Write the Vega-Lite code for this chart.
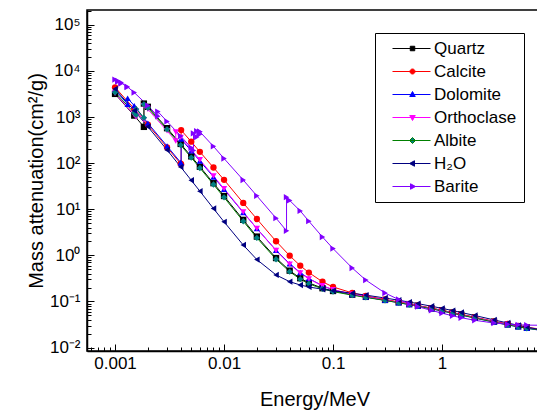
{
"$schema": "https://vega.github.io/schema/vega-lite/v6.json",
"width": 455, "height": 341,
"autosize": {"type": "none"},
"padding": {"left": 87, "top": 10, "right": 0, "bottom": 59},
"background": "white",
"data": {"values": [
{"m":"Quartz","e":0.001,"v":3178},{"m":"Quartz","e":0.0015,"v":1075},{"m":"Quartz","e":0.001839,"v":612},{"m":"Quartz","e":0.001839,"v":1960},{"m":"Quartz","e":0.002,"v":1668},{"m":"Quartz","e":0.003,"v":573},{"m":"Quartz","e":0.004,"v":261},{"m":"Quartz","e":0.005,"v":140},{"m":"Quartz","e":0.006,"v":83.5},{"m":"Quartz","e":0.008,"v":36.7},{"m":"Quartz","e":0.01,"v":19.35},{"m":"Quartz","e":0.015,"v":5.88},{"m":"Quartz","e":0.02,"v":2.55},{"m":"Quartz","e":0.03,"v":0.872},{"m":"Quartz","e":0.04,"v":0.465},{"m":"Quartz","e":0.05,"v":0.3185},{"m":"Quartz","e":0.06,"v":0.2515},{"m":"Quartz","e":0.08,"v":0.1935},{"m":"Quartz","e":0.1,"v":0.1684},{"m":"Quartz","e":0.15,"v":0.1402},{"m":"Quartz","e":0.2,"v":0.1255},{"m":"Quartz","e":0.3,"v":0.1076},{"m":"Quartz","e":0.4,"v":0.0959},{"m":"Quartz","e":0.5,"v":0.0874},{"m":"Quartz","e":0.6,"v":0.0807},{"m":"Quartz","e":0.8,"v":0.0709},{"m":"Quartz","e":1,"v":0.0637},{"m":"Quartz","e":1.25,"v":0.0569},{"m":"Quartz","e":1.5,"v":0.0519},{"m":"Quartz","e":2,"v":0.0447},{"m":"Quartz","e":3,"v":0.0364},{"m":"Quartz","e":4,"v":0.0317},{"m":"Quartz","e":5,"v":0.0288},{"m":"Quartz","e":6,"v":0.0268},{"m":"Quartz","e":8,"v":0.0244},
{"m":"Calcite","e":0.001,"v":4415},{"m":"Calcite","e":0.0015,"v":1513},{"m":"Calcite","e":0.002,"v":685},{"m":"Calcite","e":0.003,"v":219.5},{"m":"Calcite","e":0.004,"v":97.1},{"m":"Calcite","e":0.004038,"v":94.3},{"m":"Calcite","e":0.004038,"v":521},{"m":"Calcite","e":0.005,"v":292},{"m":"Calcite","e":0.006,"v":176},{"m":"Calcite","e":0.008,"v":80.3},{"m":"Calcite","e":0.01,"v":43.5},{"m":"Calcite","e":0.015,"v":13.7},{"m":"Calcite","e":0.02,"v":6.14},{"m":"Calcite","e":0.03,"v":2.02},{"m":"Calcite","e":0.04,"v":0.982},{"m":"Calcite","e":0.05,"v":0.596},{"m":"Calcite","e":0.06,"v":0.422},{"m":"Calcite","e":0.08,"v":0.2667},{"m":"Calcite","e":0.1,"v":0.2059},{"m":"Calcite","e":0.15,"v":0.1529},{"m":"Calcite","e":0.2,"v":0.1317},{"m":"Calcite","e":0.3,"v":0.1102},{"m":"Calcite","e":0.4,"v":0.0974},{"m":"Calcite","e":0.5,"v":0.0884},{"m":"Calcite","e":0.6,"v":0.0816},{"m":"Calcite","e":0.8,"v":0.0715},{"m":"Calcite","e":1,"v":0.0643},{"m":"Calcite","e":1.25,"v":0.0575},{"m":"Calcite","e":1.5,"v":0.0525},{"m":"Calcite","e":2,"v":0.0453},{"m":"Calcite","e":3,"v":0.037},{"m":"Calcite","e":4,"v":0.0324},{"m":"Calcite","e":5,"v":0.0295},{"m":"Calcite","e":6,"v":0.0275},{"m":"Calcite","e":8,"v":0.0251},
{"m":"Dolomite","e":0.001,"v":3858},{"m":"Dolomite","e":0.001305,"v":1905},{"m":"Dolomite","e":0.001305,"v":2558},{"m":"Dolomite","e":0.0015,"v":1766},{"m":"Dolomite","e":0.002,"v":737.5},{"m":"Dolomite","e":0.003,"v":234.7},{"m":"Dolomite","e":0.004,"v":103.3},{"m":"Dolomite","e":0.004038,"v":100.3},{"m":"Dolomite","e":0.004038,"v":332.2},{"m":"Dolomite","e":0.005,"v":185},{"m":"Dolomite","e":0.006,"v":111},{"m":"Dolomite","e":0.008,"v":50.3},{"m":"Dolomite","e":0.01,"v":27.06},{"m":"Dolomite","e":0.015,"v":8.51},{"m":"Dolomite","e":0.02,"v":3.82},{"m":"Dolomite","e":0.03,"v":1.29},{"m":"Dolomite","e":0.04,"v":0.659},{"m":"Dolomite","e":0.05,"v":0.422},{"m":"Dolomite","e":0.06,"v":0.3145},{"m":"Dolomite","e":0.08,"v":0.218},{"m":"Dolomite","e":0.1,"v":0.1786},{"m":"Dolomite","e":0.15,"v":0.1412},{"m":"Dolomite","e":0.2,"v":0.1244},{"m":"Dolomite","e":0.3,"v":0.1057},{"m":"Dolomite","e":0.4,"v":0.0939},{"m":"Dolomite","e":0.5,"v":0.0855},{"m":"Dolomite","e":0.6,"v":0.0789},{"m":"Dolomite","e":0.8,"v":0.0692},{"m":"Dolomite","e":1,"v":0.0622},{"m":"Dolomite","e":1.25,"v":0.0557},{"m":"Dolomite","e":1.5,"v":0.0507},{"m":"Dolomite","e":2,"v":0.0437},{"m":"Dolomite","e":3,"v":0.0356},{"m":"Dolomite","e":4,"v":0.031},{"m":"Dolomite","e":5,"v":0.0281},{"m":"Dolomite","e":6,"v":0.0261},{"m":"Dolomite","e":8,"v":0.0236},
{"m":"Orthoclase","e":0.001,"v":3271},{"m":"Orthoclase","e":0.0015,"v":1110},{"m":"Orthoclase","e":0.00156,"v":999},{"m":"Orthoclase","e":0.00156,"v":1347},{"m":"Orthoclase","e":0.001839,"v":875},{"m":"Orthoclase","e":0.001839,"v":1748},{"m":"Orthoclase","e":0.002,"v":1470},{"m":"Orthoclase","e":0.003,"v":502},{"m":"Orthoclase","e":0.003607,"v":303},{"m":"Orthoclase","e":0.003607,"v":472},{"m":"Orthoclase","e":0.004,"v":362},{"m":"Orthoclase","e":0.005,"v":196.8},{"m":"Orthoclase","e":0.006,"v":118.2},{"m":"Orthoclase","e":0.008,"v":52.7},{"m":"Orthoclase","e":0.01,"v":28},{"m":"Orthoclase","e":0.015,"v":8.69},{"m":"Orthoclase","e":0.02,"v":3.81},{"m":"Orthoclase","e":0.03,"v":1.269},{"m":"Orthoclase","e":0.04,"v":0.641},{"m":"Orthoclase","e":0.05,"v":0.4126},{"m":"Orthoclase","e":0.06,"v":0.3078},{"m":"Orthoclase","e":0.08,"v":0.2175},{"m":"Orthoclase","e":0.1,"v":0.1801},{"m":"Orthoclase","e":0.15,"v":0.1433},{"m":"Orthoclase","e":0.2,"v":0.1263},{"m":"Orthoclase","e":0.3,"v":0.1072},{"m":"Orthoclase","e":0.4,"v":0.0953},{"m":"Orthoclase","e":0.5,"v":0.0867},{"m":"Orthoclase","e":0.6,"v":0.08},{"m":"Orthoclase","e":0.8,"v":0.0702},{"m":"Orthoclase","e":1,"v":0.0631},{"m":"Orthoclase","e":1.25,"v":0.0564},{"m":"Orthoclase","e":1.5,"v":0.0514},{"m":"Orthoclase","e":2,"v":0.0444},{"m":"Orthoclase","e":3,"v":0.0362},{"m":"Orthoclase","e":4,"v":0.0316},{"m":"Orthoclase","e":5,"v":0.0288},{"m":"Orthoclase","e":6,"v":0.0269},{"m":"Orthoclase","e":8,"v":0.0245},
{"m":"Albite","e":0.001,"v":3440},{"m":"Albite","e":0.0015,"v":1235},{"m":"Albite","e":0.00156,"v":1111},{"m":"Albite","e":0.00156,"v":1481},{"m":"Albite","e":0.001839,"v":964},{"m":"Albite","e":0.001839,"v":1890},{"m":"Albite","e":0.002,"v":1588},{"m":"Albite","e":0.003,"v":541},{"m":"Albite","e":0.004,"v":246.4},{"m":"Albite","e":0.005,"v":131.7},{"m":"Albite","e":0.006,"v":78.5},{"m":"Albite","e":0.008,"v":34.4},{"m":"Albite","e":0.01,"v":18.08},{"m":"Albite","e":0.015,"v":5.49},{"m":"Albite","e":0.02,"v":2.39},{"m":"Albite","e":0.03,"v":0.823},{"m":"Albite","e":0.04,"v":0.4423},{"m":"Albite","e":0.05,"v":0.3045},{"m":"Albite","e":0.06,"v":0.2415},{"m":"Albite","e":0.08,"v":0.187},{"m":"Albite","e":0.1,"v":0.1633},{"m":"Albite","e":0.15,"v":0.1364},{"m":"Albite","e":0.2,"v":0.1223},{"m":"Albite","e":0.3,"v":0.1049},{"m":"Albite","e":0.4,"v":0.0936},{"m":"Albite","e":0.5,"v":0.0853},{"m":"Albite","e":0.6,"v":0.0788},{"m":"Albite","e":0.8,"v":0.0691},{"m":"Albite","e":1,"v":0.0621},{"m":"Albite","e":1.25,"v":0.0556},{"m":"Albite","e":1.5,"v":0.0506},{"m":"Albite","e":2,"v":0.0436},{"m":"Albite","e":3,"v":0.0355},{"m":"Albite","e":4,"v":0.031},{"m":"Albite","e":5,"v":0.0281},{"m":"Albite","e":6,"v":0.0262},{"m":"Albite","e":8,"v":0.0238},
{"m":"H₂O","e":0.001,"v":4078},{"m":"H₂O","e":0.0015,"v":1376},{"m":"H₂O","e":0.002,"v":617.3},{"m":"H₂O","e":0.003,"v":192.9},{"m":"H₂O","e":0.004,"v":82.78},{"m":"H₂O","e":0.005,"v":42.58},{"m":"H₂O","e":0.006,"v":24.64},{"m":"H₂O","e":0.008,"v":10.37},{"m":"H₂O","e":0.01,"v":5.329},{"m":"H₂O","e":0.015,"v":1.673},{"m":"H₂O","e":0.02,"v":0.8096},{"m":"H₂O","e":0.03,"v":0.3756},{"m":"H₂O","e":0.04,"v":0.2683},{"m":"H₂O","e":0.05,"v":0.2269},{"m":"H₂O","e":0.06,"v":0.2059},{"m":"H₂O","e":0.08,"v":0.1837},{"m":"H₂O","e":0.1,"v":0.1707},{"m":"H₂O","e":0.15,"v":0.1505},{"m":"H₂O","e":0.2,"v":0.137},{"m":"H₂O","e":0.3,"v":0.1186},{"m":"H₂O","e":0.4,"v":0.1061},{"m":"H₂O","e":0.5,"v":0.09687},{"m":"H₂O","e":0.6,"v":0.08956},{"m":"H₂O","e":0.8,"v":0.07865},{"m":"H₂O","e":1,"v":0.07072},{"m":"H₂O","e":1.25,"v":0.06323},{"m":"H₂O","e":1.5,"v":0.05754},{"m":"H₂O","e":2,"v":0.04942},{"m":"H₂O","e":3,"v":0.03969},{"m":"H₂O","e":4,"v":0.03403},{"m":"H₂O","e":5,"v":0.03031},{"m":"H₂O","e":6,"v":0.0277},{"m":"H₂O","e":8,"v":0.02429},
{"m":"Barite","e":0.001,"v":6500},{"m":"Barite","e":0.001062,"v":5900},{"m":"Barite","e":0.001062,"v":6080},{"m":"Barite","e":0.001137,"v":5350},{"m":"Barite","e":0.001137,"v":5590},{"m":"Barite","e":0.001293,"v":4440},{"m":"Barite","e":0.001293,"v":4560},{"m":"Barite","e":0.0015,"v":3400},{"m":"Barite","e":0.002,"v":1775},{"m":"Barite","e":0.002472,"v":1040},{"m":"Barite","e":0.002472,"v":1312},{"m":"Barite","e":0.003,"v":803},{"m":"Barite","e":0.004,"v":387},{"m":"Barite","e":0.005,"v":216},{"m":"Barite","e":0.005247,"v":189},{"m":"Barite","e":0.005247,"v":443},{"m":"Barite","e":0.005624,"v":369},{"m":"Barite","e":0.005624,"v":496},{"m":"Barite","e":0.005989,"v":422},{"m":"Barite","e":0.005989,"v":482},{"m":"Barite","e":0.006,"v":480},{"m":"Barite","e":0.008,"v":231},{"m":"Barite","e":0.01,"v":126},{"m":"Barite","e":0.015,"v":43},{"m":"Barite","e":0.02,"v":19.5},{"m":"Barite","e":0.03,"v":6.4},{"m":"Barite","e":0.03744,"v":3.4},{"m":"Barite","e":0.03744,"v":18.3},{"m":"Barite","e":0.04,"v":15.5},{"m":"Barite","e":0.05,"v":9.2},{"m":"Barite","e":0.06,"v":5.5},{"m":"Barite","e":0.08,"v":2.5},{"m":"Barite","e":0.1,"v":1.4},{"m":"Barite","e":0.15,"v":0.53},{"m":"Barite","e":0.2,"v":0.29},{"m":"Barite","e":0.3,"v":0.152},{"m":"Barite","e":0.4,"v":0.11},{"m":"Barite","e":0.5,"v":0.0884},{"m":"Barite","e":0.6,"v":0.077},{"m":"Barite","e":0.8,"v":0.0638},{"m":"Barite","e":1,"v":0.0556},{"m":"Barite","e":1.25,"v":0.0487},{"m":"Barite","e":1.5,"v":0.0443},{"m":"Barite","e":2,"v":0.0389},{"m":"Barite","e":3,"v":0.034},{"m":"Barite","e":4,"v":0.0319},{"m":"Barite","e":5,"v":0.031},{"m":"Barite","e":6,"v":0.0306},{"m":"Barite","e":8,"v":0.0304}
]},
"encoding": {
 "x": {"field": "e", "type": "quantitative",
  "scale": {"type": "log", "domain": [0.000553, 8.26], "nice": false},
  "axis": {"title": "Energy/MeV",
   "values": [0.0006,0.0007,0.0008,0.0009,0.001,0.002,0.003,0.004,0.005,0.006,0.007,0.008,0.009,0.01,0.02,0.03,0.04,0.05,0.06,0.07,0.08,0.09,0.1,0.2,0.3,0.4,0.5,0.6,0.7,0.8,0.9,1,2,3,4,5,6,7,8],
   "labelExpr": "datum.value == 0.001 ? '0.001' : datum.value == 0.01 ? '0.01' : datum.value == 0.1 ? '0.1' : datum.value == 1 ? '1' : ''",
   "tickSize": {"condition": {"test": "indexof([0.001,0.01,0.1,1], datum.value) >= 0", "value": -7}, "value": -4},
   "labelPadding": 11, "titlePadding": 15, "labelOverlap": false, "labelFlush": false}},
 "y": {"field": "v", "type": "quantitative",
  "scale": {"type": "log", "domain": [0.0084, 210000], "nice": false},
  "axis": {"title": "Mass attenuation(cm²/g)",
   "values": [0.01,0.02,0.03,0.04,0.05,0.06,0.07,0.08,0.09,0.1,0.2,0.3,0.4,0.5,0.6,0.7,0.8,0.9,1,2,3,4,5,6,7,8,9,10,20,30,40,50,60,70,80,90,100,200,300,400,500,600,700,800,900,1000,2000,3000,4000,5000,6000,7000,8000,9000,10000,20000,30000,40000,50000,60000,70000,80000,90000,100000,200000],
   "labelExpr": "datum.value == 100000 ? '10⁵' : datum.value == 10000 ? '10⁴' : datum.value == 1000 ? '10³' : datum.value == 100 ? '10²' : datum.value == 10 ? '10¹' : datum.value == 1 ? '10⁰' : datum.value == 0.1 ? '10⁻¹' : datum.value == 0.01 ? '10⁻²' : ''",
   "tickSize": {"condition": {"test": "indexof([0.01,0.1,1,10,100,1000,10000,100000], datum.value) >= 0", "value": -7}, "value": -4},
   "labelPadding": 14, "titlePadding": 3, "labelOverlap": false, "labelFlush": false}}
},
"layer": [
 {"mark": {"type": "line", "strokeWidth": 1, "clip": true},
  "encoding": {
   "stroke": {"field": "m", "type": "nominal", "legend": null,
    "scale": {"domain": ["Quartz","Calcite","Dolomite","Orthoclase","Albite","H₂O","Barite"],
              "range": ["#000000","#ff0000","#0000ff","#ff00ff","#008000","#000080","#8000ff"]}},
   "order": {"value": null}}},
 {"mark": {"type": "point", "filled": true, "size": 40, "opacity": 1, "clip": true},
  "encoding": {
   "fill": {"field": "m", "type": "nominal", "legend": null,
    "scale": {"domain": ["Quartz","Calcite","Dolomite","Orthoclase","Albite","H₂O","Barite"],
              "range": ["#000000","#ff0000","#0000ff","#ff00ff","#008080","#000080","#8000ff"]}},
   "shape": {"field": "m", "type": "nominal", "legend": null,
    "scale": {"domain": ["Quartz","Calcite","Dolomite","Orthoclase","Albite","H₂O","Barite"],
              "range": ["square","circle","triangle-up","triangle-down","diamond","triangle-left","triangle-right"]}}}},
 {"transform": [{"filter": "false"}],
  "mark": {"type": "point", "filled": true, "strokeWidth": 1, "opacity": 1},
  "encoding": {
   "fill": {"field": "m", "type": "nominal", "legend": {"title": null},
    "scale": {"domain": ["Quartz","Calcite","Dolomite","Orthoclase","Albite","H₂O","Barite"],
              "range": ["#000000","#ff0000","#0000ff","#ff00ff","#008080","#000080","#8000ff"]}},
   "stroke": {"field": "m", "type": "nominal", "legend": {"title": null},
    "scale": {"domain": ["Quartz","Calcite","Dolomite","Orthoclase","Albite","H₂O","Barite"],
              "range": ["#000000","#ff0000","#0000ff","#ff00ff","#008000","#000080","#8000ff"]}},
   "shape": {"field": "m", "type": "nominal", "legend": {"title": null},
    "scale": {"domain": ["Quartz","Calcite","Dolomite","Orthoclase","Albite","H₂O","Barite"],
              "range": [
               "M-1,0H6.6M2.55,-0.45H3.45V0.45H2.55Z",
               "M-1,0H6.6M2.5,0A0.5,0.5 0 1,0 3.5,0A0.5,0.5 0 1,0 2.5,0Z",
               "M-1,0H6.6M3,-0.6L3.55,0.4L2.45,0.4Z",
               "M-1,0H6.6M3,0.6L3.55,-0.4L2.45,-0.4Z",
               "M-1,0H6.6M3,-0.6L3.6,0L3,0.6L2.4,0Z",
               "M-1,0H6.6M2.4,0L3.4,-0.55L3.4,0.55Z",
               "M-1,0H6.6M3.6,0L2.6,-0.55L2.6,0.55Z"]}}}}
],
"resolve": {"scale": {"fill": "independent", "stroke": "independent", "shape": "independent"}},
"config": {
 "font": "Liberation Sans",
 "view": {"stroke": "black", "strokeWidth": 1.5},
 "axis": {"grid": false, "labelFont": "Liberation Sans", "labelFontSize": 17, "labelColor": "black",
  "titleFont": "Liberation Sans", "titleFontSize": 20, "titleFontWeight": "normal", "titleColor": "black",
  "domainColor": "black", "domainWidth": 1.5, "tickColor": "black", "tickWidth": 1},
 "legend": {"orient": "none", "legendX": 288, "legendY": 23, "padding": 7,
  "strokeColor": "black", "strokeWidth": 1, "fillColor": "white",
  "symbolSize": 100, "symbolStrokeWidth": 1, "symbolOffset": 7,
  "labelFont": "Liberation Sans", "labelFontSize": 17, "labelColor": "black",
  "labelOffset": 28, "rowPadding": 5, "labelLimit": 200}
}
}
